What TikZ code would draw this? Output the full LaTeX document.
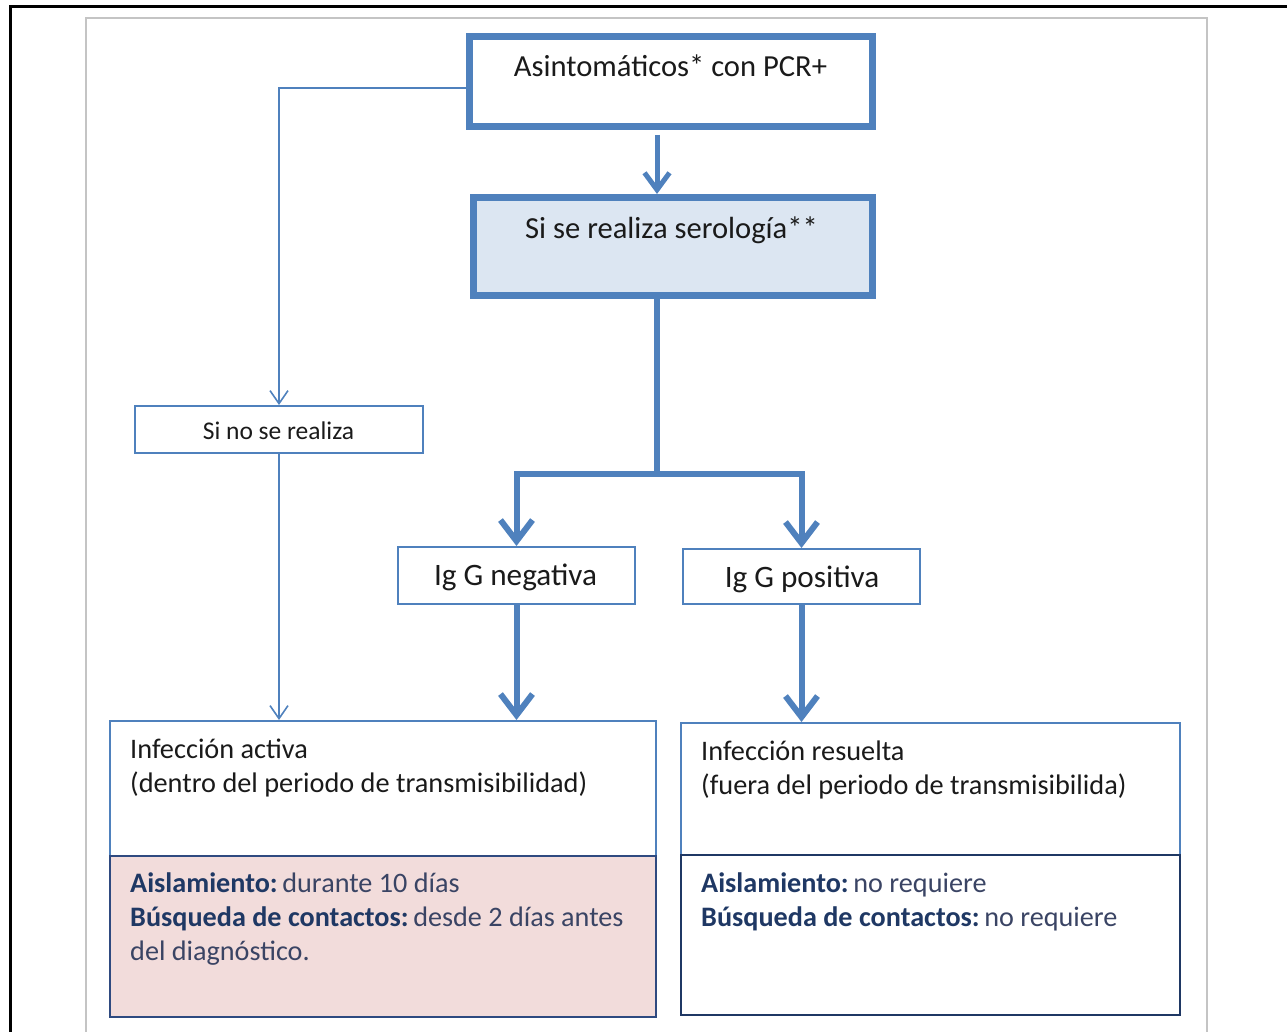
\documentclass[tikz,border=0pt]{standalone}
\usepackage{fontspec}
\setmainfont{Carlito}
\usetikzlibrary{arrows.meta,calc}
\definecolor{accent}{HTML}{4F81BD}
\definecolor{lightfill}{HTML}{DCE6F2}
\definecolor{pinkfill}{HTML}{F2DCDB}
\definecolor{navy}{HTML}{1F3864}
\definecolor{navybox}{HTML}{2F4A80}
\definecolor{bodytxt}{HTML}{1A1A1A}
\definecolor{lowtxt}{HTML}{3A4464}
\definecolor{framegray}{HTML}{C4C4C4}
\begin{document}
\begin{tikzpicture}[x=1pt,y=-1pt,
  bigbox/.style={draw=accent, line width=7pt, inner sep=0pt},
  smallbox/.style={draw=accent, line width=1.6pt, inner sep=0pt},
  lowbox/.style={draw=navybox, line width=1.8pt, inner sep=0pt},
  thkline/.style={draw=accent, line width=6pt, line join=miter},
  bigarrow/.style={thkline, -{Straight Barb[length=21pt,width=32pt]}},
  midarrow/.style={draw=accent, line width=5pt, -{Straight Barb[length=17pt,width=25pt]}},
  thinarrow/.style={draw=accent, line width=1.6pt, -{Straight Barb[length=13pt,width=18pt]}},
  ttop/.style={font=\fontsize{30.6}{36}\selectfont, text=bodytxt, inner sep=0pt, anchor=base},
  tig/.style={font=\fontsize{31.2}{36}\selectfont, text=bodytxt, inner sep=0pt, anchor=base},
  tsmall/.style={font=\fontsize{25.5}{30}\selectfont, text=bodytxt, inner sep=0pt, anchor=base},
  tbody/.style={font=\fontsize{28.3}{33}\selectfont, text=bodytxt, inner sep=0pt, anchor=base west},
  tlow/.style={font=\fontsize{28.2}{33}\selectfont, text=lowtxt, inner sep=0pt, anchor=base west},
]
\useasboundingbox (0,0) rectangle (1287,1032);
% frames
\draw[black, line width=3pt] (10,1040) -- (10,7) -- (1295,7);
\draw[framegray, line width=2pt] (86,1040) -- (86,18) -- (1207,18) -- (1207,1040);

% boxes
\node[bigbox, minimum width=403pt, minimum height=90pt] (b1) at (671,81.5) {};
\node[bigbox, fill=lightfill, minimum width=399pt, minimum height=98pt] (b2) at (673,246.5) {};
\node[smallbox, minimum width=288.4pt, minimum height=47.4pt] (sino) at (279,429.5) {};
\node[smallbox, minimum width=237.4pt, minimum height=57.4pt] (neg) at (516.5,575.5) {};
\node[smallbox, minimum width=237.4pt, minimum height=55.4pt] (pos) at (801.5,576.5) {};
\node[smallbox, minimum width=546.4pt, minimum height=135.2pt] (act) at (383,788.4) {};
\node[lowbox, fill=pinkfill, minimum width=546.4pt, minimum height=161pt] (actlow) at (383,936.5) {};
\node[smallbox, minimum width=499pt, minimum height=132.2pt] (res) at (930.5,788.9) {};
\node[lowbox, draw=navy, minimum width=499pt, minimum height=160pt] (reslow) at (930.5,935) {};

% texts
\node[ttop] (t1) at (670.5,77) {Asintomáticos* con PCR+};
\node[ttop] (t2) at (671.5,239) {Si se realiza serología**};
\node[tsmall] (t3) at (278.5,439) {Si no se realiza};
\node[tig] (t4) at (515.5,585) {Ig G negativa};
\node[tig] (t5) at (802,587) {Ig G positiva};
\node[tbody] (t6) at (130,758) {Infección activa};
\node[tbody] (t7) at (130,792) {(dentro del periodo de transmisibilidad)};
\node[tlow] (t8) at (130,892) {{\bfseries\color{navy}Aislamiento:}\,durante 10 días};
\node[tlow] (t9) at (130,926.5) {{\bfseries\color{navy}Búsqueda de contactos:}\,desde 2 días antes};
\node[tlow] (t10) at (130,960) {del diagnóstico.};
\node[tbody] (t11) at (701,760) {Infección resuelta};
\node[tbody] (t12) at (701,794) {(fuera del periodo de transmisibilida)};
\node[tlow] (t13) at (701,892) {{\bfseries\color{navy}Aislamiento:}\,no requiere};
\node[tlow] (t14) at (701,926.5) {{\bfseries\color{navy}Búsqueda de contactos:}\,no requiere};

% connectors
\coordinate (cx) at (657,0);
\coordinate (jn) at (657,474);
\draw[midarrow, shorten <=5pt] (b1.south -| cx) -- (b2.north -| cx);
\draw[thkline] (b2.south -| cx) -- (jn);
\draw[bigarrow] (jn) -| (neg.north);
\draw[bigarrow] (jn) -| (pos.north);
\draw[bigarrow] (neg.south) -- (neg.south |- act.north);
\draw[bigarrow] (pos.south) -- (pos.south |- res.north);
\draw[thinarrow] ($(b1.west)+(0,6.5)$) -| (sino.north);
\draw[thinarrow] (sino.south) -- (sino.south |- act.north);
\end{tikzpicture}
\end{document}
